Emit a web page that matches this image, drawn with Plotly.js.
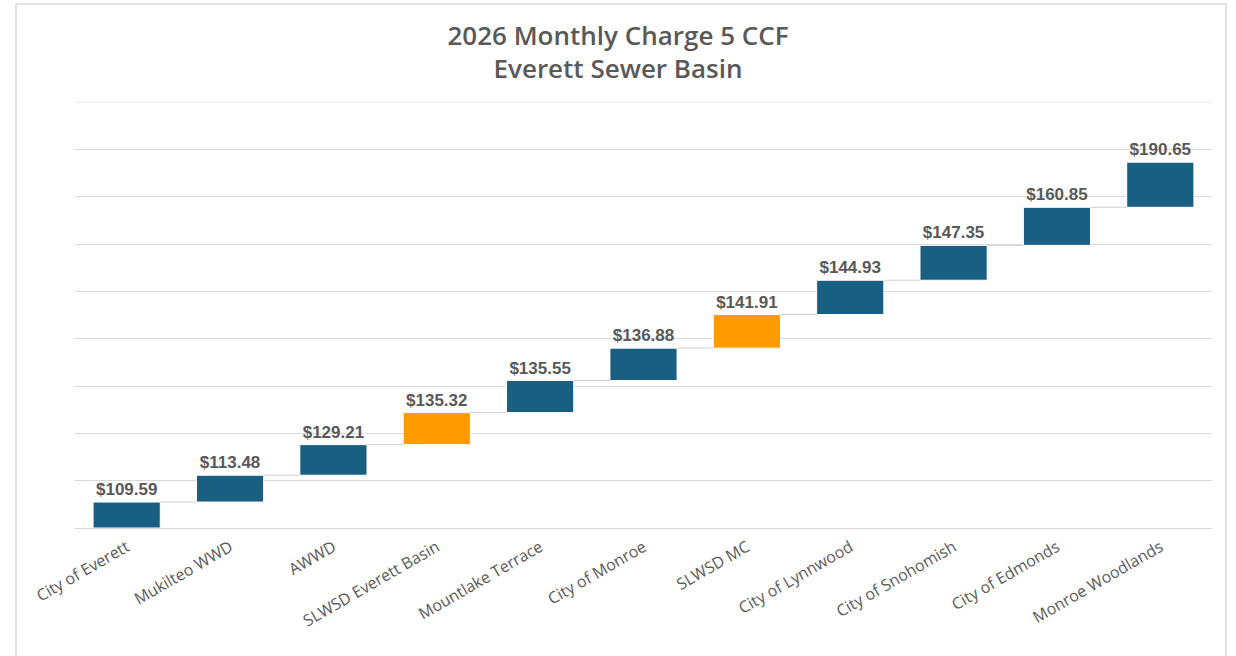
<!DOCTYPE html>
<html>
<head>
<meta charset="utf-8">
<script src="https://cdn.plot.ly/plotly-3.0.1.min.js"></script>
<style>html,body{margin:0;padding:0;background:#fff;}#chart{width:1236px;height:656px;}</style>
</head>
<body>
<div id="chart"></div>
<script>
const categories = ["City of Everett","Mukilteo WWD","AWWD","SLWSD Everett Basin","Mountlake Terrace","City of Monroe","SLWSD MC","City of Lynnwood","City of Snohomish","City of Edmonds","Monroe Woodlands"];
const charges = [109.59,113.48,129.21,135.32,135.55,136.88,141.91,144.93,147.35,160.85,190.65];
const highlighted = ["SLWSD Everett Basin","SLWSD MC"];

const BLUE = "#185F82", ORANGE = "#FF9A00";
const idx = categories.map((_, i) => i);
const bases = [];
let run = 0;
charges.forEach(v => { bases.push(run); run += v; });
const colors = categories.map(c => highlighted.includes(c) ? ORANGE : BLUE);
const labels = charges.map(v => "$" + v.toFixed(2));
const W = 0.65;
const YMAX = 1800;

// connector segments
const cx = [], cy = [];
for (let i = 0; i < charges.length - 1; i++) {
  const top = bases[i] + charges[i];
  cx.push(i + W/2, i + 1 - W/2, null);
  cy.push(top, top, null);
}

const traces = [
  {type:"scatter", mode:"lines", x:cx, y:cy, line:{color:"#d0d0d0", width:1}, hoverinfo:"skip", showlegend:false},
  {type:"bar", x:idx, y:charges, base:bases, width:W,
   marker:{color:colors, line:{color:"#ffffff", width:1}},
   text:labels, textposition:"outside", cliponaxis:false,
   textfont:{family:"Liberation Sans, Arial, sans-serif", size:17, color:"#595959", weight:"bold"},
   showlegend:false}
];

const layout = {
  width:1236, height:656,
  margin:{l:75, r:24, t:102, b:128},
  paper_bgcolor:"#fff", plot_bgcolor:"#fff",
  title:{text:"2026 Monthly Charge 5 CCF<br>Everett Sewer Basin", x:0.5, xanchor:"center", y:0.932, yanchor:"top",
         font:{family:"Open Sans, sans-serif", size:26, color:"#595959", weight:600}},
  xaxis:{range:[-0.5, 10.5], tickvals:idx, ticktext:categories, tickangle:-30, showgrid:false, zeroline:false,
         ticks:"", ticklabelstandoff:6, tickfont:{family:"Open Sans, sans-serif", size:16, color:"#595959"}},
  yaxis:{range:[0,YMAX], dtick:200, showticklabels:false, gridcolor:"#d9d9d9", gridwidth:1,
         zeroline:true, zerolinecolor:"#d9d9d9", zerolinewidth:1, ticks:""},
  bargap:0,
  shapes:[
    {type:"rect", xref:"paper", yref:"paper", x0:(16-75)/1137, x1:(1226-75)/1137, y0:(528-700)/426, y1:(528-4)/426,
     line:{color:"#d9d9d9", width:1.5}, fillcolor:"rgba(0,0,0,0)", layer:"below"},
    {type:"line", xref:"paper", yref:"y", x0:0, x1:1, y0:YMAX, y1:YMAX, line:{color:"#d9d9d9", width:1}, layer:"below"}
  ],
  showlegend:false
};
Plotly.newPlot("chart", traces, layout, {displayModeBar:false, staticPlot:true});
</script>
</body>
</html>
